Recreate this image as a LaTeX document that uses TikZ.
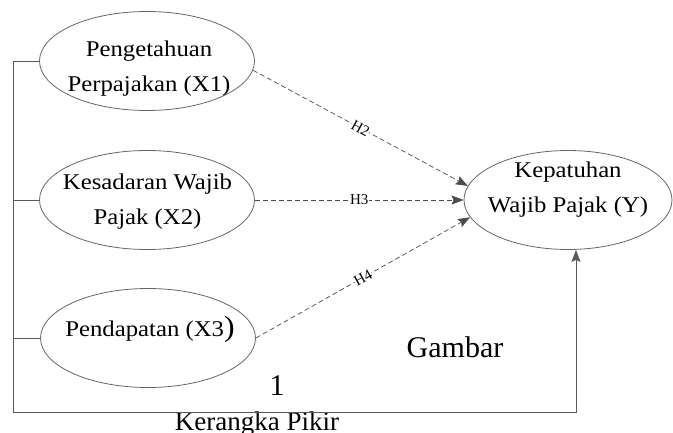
\documentclass[tikz,border=0pt]{standalone}
\usepackage{fontspec}
\setmainfont{Liberation Serif}
\newfontfamily\widefont[FakeStretch=1.1]{Liberation Serif}
\usetikzlibrary{shapes.geometric,arrows.meta}
\begin{document}
\begin{tikzpicture}[x=1pt,y=-1pt,
  oval/.style={ellipse, draw=black!60, line width=0.8pt, minimum width=215pt, minimum height=99pt, inner sep=0},
  ovaltext/.style={align=center, font=\widefont\fontsize{22.5}{35}\selectfont, inner sep=0},
  hyp/.style={draw=black!70, dash pattern=on 5pt off 3pt, line width=0.7pt, -{Stealth[length=12pt,width=9pt,inset=2pt]}},
  hlabel/.style={font=\fontsize{15}{15}\selectfont, fill=white, inner sep=0.3pt, sloped},
  frame/.style={draw=black!65, line width=0.9pt},
  bigtext/.style={font=\fontsize{30}{30}\selectfont, anchor=base, inner sep=0}
]
\useasboundingbox (0,0) rectangle (673,433);
\node[oval] (x1) at (147,61) {};
\node[oval] (x2) at (147,200) {};
\node[oval] (x3) at (148,338) {};
\node[oval, minimum width=208pt] (y) at (568,200) {};

\node[ovaltext] (t1) at (149,69) {Pengetahuan\\Perpajakan (X1)};
\node[ovaltext] (t2) at (147.5,202) {Kesadaran Wajib\\Pajak (X2)};
\node[ovaltext, anchor=base] (t3) at (150,337) {Pendapatan (X3{\fontsize{29}{29}\selectfont)}};
\node[ovaltext] (t4) at (568,190) {Kepatuhan\\Wajib Pajak (Y)};

\node[bigtext] (gb) at (455,357) {Gambar};
\node[bigtext] (num) at (277,395) {1};
\node[bigtext, font=\fontsize{27}{27}\selectfont] (kp) at (257,430) {Kerangka Pikir};

\coordinate (bl) at (13,412);
\coordinate (br) at (576,412);
\draw[frame, -{Stealth[length=12pt,width=9pt,inset=2pt]}] (x1.west) -- (x1.west -| bl) -- (bl) -- (br) -- (br |- y.south);
\draw[frame] (x2.west) -- (x2.west -| bl);
\draw[frame] (x3.west) -- (x3.west -| bl);

\draw[hyp] (x1.-5) -- node[hlabel]{H2} (y.172);
\draw[hyp] (x2.east) -- node[hlabel]{H3} (y.west);
\draw[hyp] (x3.east) -- node[hlabel]{H4} (y.190);
\end{tikzpicture}
\end{document}
